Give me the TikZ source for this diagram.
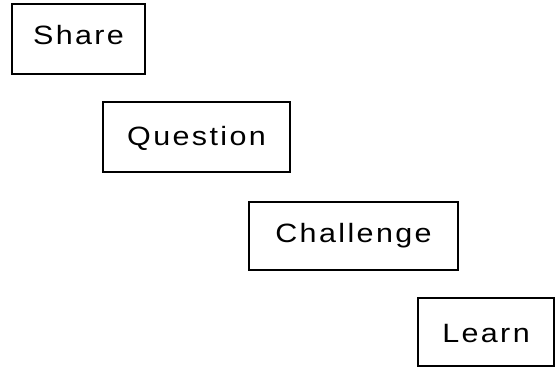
\documentclass[tikz,border=0pt]{standalone}
\usepackage{fontspec}
\setmainfont{Liberation Sans}
\newfontfamily\boxfont[FakeStretch=1.15,LetterSpace=9]{Liberation Sans}
\begin{document}
\begin{tikzpicture}[x=1pt,y=-1pt,
  stepbox/.style={draw=black, line width=1.3pt, inner sep=0pt, anchor=base, align=center,
    font=\boxfont\fontsize{26.5}{30}\selectfont}]
\useasboundingbox (0,0) rectangle (557,367);
\node[stepbox, minimum width=133pt, text height=40pt, text depth=30pt] (share) at (78.5,44) {Share};
\node[stepbox, minimum width=187pt, text height=43pt, text depth=27pt] (question) at (196.5,145) {Question};
\node[stepbox, minimum width=209pt, text height=40pt, text depth=28pt] (challenge) at (353.5,242) {Challenge};
\node[stepbox, minimum width=136pt, text height=44pt, text depth=24pt] (learn) at (486,342) {Learn};
\end{tikzpicture}
\end{document}
